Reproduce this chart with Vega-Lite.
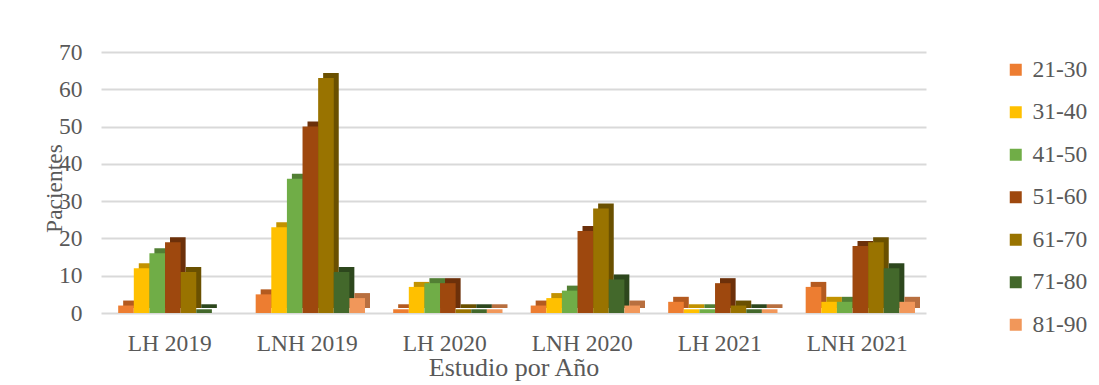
{
  "$schema": "https://vega.github.io/schema/vega-lite/v6.json",
  "width": 825,
  "height": 261,
  "autosize": "none",
  "padding": {"left": 101, "top": 52, "right": 173, "bottom": 72},
  "background": "white",
  "config": {"view": {"stroke": null}, "font": "Liberation Serif"},
  "data": {"values": [
    {"estudio": "LH 2019", "edad": "21-30", "pacientes": 2},
    {"estudio": "LH 2019", "edad": "31-40", "pacientes": 12},
    {"estudio": "LH 2019", "edad": "41-50", "pacientes": 16},
    {"estudio": "LH 2019", "edad": "51-60", "pacientes": 19},
    {"estudio": "LH 2019", "edad": "61-70", "pacientes": 11},
    {"estudio": "LH 2019", "edad": "71-80", "pacientes": 1},
    {"estudio": "LH 2019", "edad": "81-90", "pacientes": 0},
    {"estudio": "LNH 2019", "edad": "21-30", "pacientes": 5},
    {"estudio": "LNH 2019", "edad": "31-40", "pacientes": 23},
    {"estudio": "LNH 2019", "edad": "41-50", "pacientes": 36},
    {"estudio": "LNH 2019", "edad": "51-60", "pacientes": 50},
    {"estudio": "LNH 2019", "edad": "61-70", "pacientes": 63},
    {"estudio": "LNH 2019", "edad": "71-80", "pacientes": 11},
    {"estudio": "LNH 2019", "edad": "81-90", "pacientes": 4},
    {"estudio": "LH 2020", "edad": "21-30", "pacientes": 1},
    {"estudio": "LH 2020", "edad": "31-40", "pacientes": 7},
    {"estudio": "LH 2020", "edad": "41-50", "pacientes": 8},
    {"estudio": "LH 2020", "edad": "51-60", "pacientes": 8},
    {"estudio": "LH 2020", "edad": "61-70", "pacientes": 1},
    {"estudio": "LH 2020", "edad": "71-80", "pacientes": 1},
    {"estudio": "LH 2020", "edad": "81-90", "pacientes": 1},
    {"estudio": "LNH 2020", "edad": "21-30", "pacientes": 2},
    {"estudio": "LNH 2020", "edad": "31-40", "pacientes": 4},
    {"estudio": "LNH 2020", "edad": "41-50", "pacientes": 6},
    {"estudio": "LNH 2020", "edad": "51-60", "pacientes": 22},
    {"estudio": "LNH 2020", "edad": "61-70", "pacientes": 28},
    {"estudio": "LNH 2020", "edad": "71-80", "pacientes": 9},
    {"estudio": "LNH 2020", "edad": "81-90", "pacientes": 2},
    {"estudio": "LH 2021", "edad": "21-30", "pacientes": 3},
    {"estudio": "LH 2021", "edad": "31-40", "pacientes": 1},
    {"estudio": "LH 2021", "edad": "41-50", "pacientes": 1},
    {"estudio": "LH 2021", "edad": "51-60", "pacientes": 8},
    {"estudio": "LH 2021", "edad": "61-70", "pacientes": 2},
    {"estudio": "LH 2021", "edad": "71-80", "pacientes": 1},
    {"estudio": "LH 2021", "edad": "81-90", "pacientes": 1},
    {"estudio": "LNH 2021", "edad": "21-30", "pacientes": 7},
    {"estudio": "LNH 2021", "edad": "31-40", "pacientes": 3},
    {"estudio": "LNH 2021", "edad": "41-50", "pacientes": 3},
    {"estudio": "LNH 2021", "edad": "51-60", "pacientes": 18},
    {"estudio": "LNH 2021", "edad": "61-70", "pacientes": 19},
    {"estudio": "LNH 2021", "edad": "71-80", "pacientes": 12},
    {"estudio": "LNH 2021", "edad": "81-90", "pacientes": 3}
  ]},
  "encoding": {
    "x": {
      "field": "estudio", "type": "nominal",
      "sort": ["LH 2019", "LNH 2019", "LH 2020", "LNH 2020", "LH 2021", "LNH 2021"],
      "scale": {"paddingInner": 0.08, "paddingOuter": 0.04},
      "title": "Estudio por Año",
      "axis": {
        "labelAngle": 0, "domain": false, "ticks": false, "grid": false,
        "labelFont": "Liberation Serif", "labelFontSize": 23.5, "labelColor": "#595959", "labelPadding": 18,
        "titleFont": "Liberation Serif", "titleFontSize": 26, "titleColor": "#595959", "titleFontWeight": "normal",
        "titlePadding": 0
      }
    },
    "y": {
      "field": "pacientes", "type": "quantitative",
      "scale": {"domain": [0, 70]},
      "title": "Pacientes",
      "axis": {
        "values": [0, 10, 20, 30, 40, 50, 60, 70],
        "domain": false, "ticks": false,
        "grid": true, "gridColor": "#d9d9d9", "gridWidth": 2,
        "labelFont": "Liberation Serif", "labelFontSize": 23.5, "labelColor": "#595959", "labelPadding": 19,
        "titleFont": "Liberation Serif", "titleFontSize": 23.5, "titleColor": "#595959", "titleFontWeight": "normal",
        "titleAngle": -90, "titleAlign": "center", "titleBaseline": "middle",
        "titleX": -47, "titleY": 136
      }
    }
  },
  "layer": [
    {
      "mark": {"type": "bar", "yOffset": -5},
      "encoding": {
        "xOffset": {"field": "edad", "type": "nominal", "scale": {"paddingInner": 0, "paddingOuter": 0.55, "align": 0.97}},
        "color": {
          "field": "edad", "type": "nominal",
          "scale": {
            "domain": ["21-30", "31-40", "41-50", "51-60", "61-70", "71-80", "81-90"],
            "range": ["#b45a1f", "#c29200", "#527f34", "#6c300a", "#6a5000", "#2d471d", "#b86f3f"]
          },
          "legend": null
        }
      }
    },
    {
      "mark": {"type": "bar"},
      "encoding": {
        "xOffset": {"field": "edad", "type": "nominal", "scale": {"paddingInner": 0, "paddingOuter": 0.55, "align": 0.68}},
        "color": {
          "field": "edad", "type": "nominal",
          "scale": {
            "domain": ["21-30", "31-40", "41-50", "51-60", "61-70", "71-80", "81-90"],
            "range": ["#ED7D31", "#FFC000", "#70AD47", "#9E480E", "#997300", "#43682B", "#F1975A"]
          },
          "legend": {
            "title": null, "orient": "none", "legendX": 903, "legendY": 6,
            "symbolType": "square", "symbolSize": 144, "symbolStrokeWidth": 0, "symbolOpacity": 1,
            "labelFont": "Liberation Serif", "labelFontSize": 23.5, "labelColor": "#595959",
            "labelOffset": 5, "rowPadding": 17.5
          }
        }
      }
    }
  ],
  "resolve": {"scale": {"color": "independent", "xOffset": "independent"}}
}
